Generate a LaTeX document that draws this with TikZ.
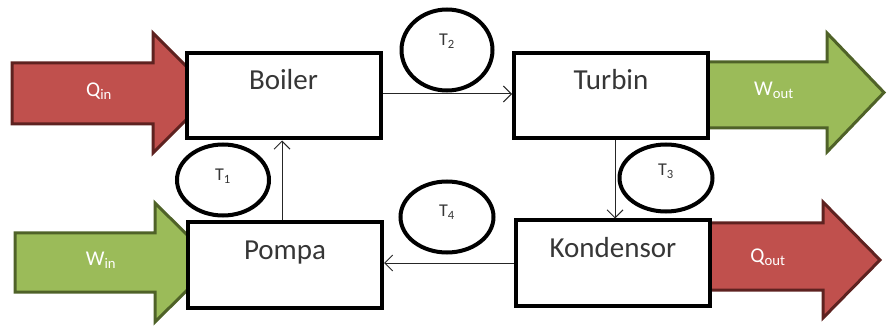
\documentclass[tikz,border=0pt]{standalone}
\usepackage{fontspec}
\setmainfont{Carlito}
\usetikzlibrary{arrows.meta,shapes.geometric}
\definecolor{redfill}{HTML}{C0504D}
\definecolor{redline}{HTML}{5E2220}
\definecolor{greenfill}{HTML}{9BBB59}
\definecolor{greenline}{HTML}{4F6228}
\definecolor{txt}{HTML}{363636}
\begin{document}
\begin{tikzpicture}[x=1pt,y=-1pt,
  bigred/.style={fill=redfill,draw=redline,line width=3pt,line join=miter},
  biggreen/.style={fill=greenfill,draw=greenline,line width=3pt,line join=miter},
  bigtext/.style={text=white,font=\fontsize{21}{21}\selectfont,inner sep=0pt},
  box/.style={draw=black,line width=4pt,fill=white,minimum width=194pt,minimum height=85pt,inner sep=0pt},
  boxtext/.style={text=txt,font=\fontsize{29}{29}\selectfont,inner sep=0pt,anchor=base},
  temp/.style={ellipse,draw=black,line width=4pt,fill=white,inner sep=0pt},
  temptext/.style={text=txt,font=\fontsize{18}{18}\selectfont,inner sep=0pt},
  conn/.style={draw=black!85,line width=1pt,-{Straight Barb[length=8pt,width=16pt,line width=1pt]}}]
\useasboundingbox (0,0) rectangle (887,326);
% big arrows
\path[bigred] (12,63) -- (153,63) -- (153,33) -- (213,93) -- (153,153) -- (153,124) -- (12,124) -- cycle;
\path[biggreen] (15,233) -- (155,233) -- (155,203) -- (215,262.5) -- (155,322) -- (155,292) -- (15,292) -- cycle;
\path[biggreen] (700,62) -- (827,62) -- (827,33) -- (884,92.5) -- (827,152) -- (827,128) -- (700,128) -- cycle;
\path[bigred] (700,223) -- (823,223) -- (823,202) -- (880,260) -- (823,318) -- (823,290) -- (700,290) -- cycle;
\node[bigtext] (qin) at (99,91) {Q\textsubscript{in}};
\node[bigtext] (win) at (101,260) {W\textsubscript{in}};
\node[bigtext] (wout) at (774,90) {W\textsubscript{out}};
\node[bigtext] (qout) at (768,257) {Q\textsubscript{out}};
% boxes
\node[box] (boiler) at (283.5,96) {};
\node[box] (turbin) at (611,96) {};
\node[box] (pompa) at (285,265) {};
\node[box] (kondensor) at (613,263) {};
\node[boxtext] (lboiler) at (283.5,90) {Boiler};
\node[boxtext] (lturbin) at (611,90) {Turbin};
\node[boxtext] (lpompa) at (285,259) {Pompa};
\node[boxtext] (lkondensor) at (613,257) {Kondensor};
% temperature ellipses
\node[temp,minimum width=92pt,minimum height=71pt] (t1) at (223,180) {};
\node[temp,minimum width=91pt,minimum height=81pt] (t2) at (447,50) {};
\node[temp,minimum width=93pt,minimum height=67pt] (t3) at (666,178) {};
\node[temp,minimum width=93pt,minimum height=71pt] (t4) at (447,217) {};
\node[temptext] (lt1) at ([yshift=4pt]t1.center) {T\textsubscript{1}};
\node[temptext] (lt2) at ([yshift=9pt]t2.center) {T\textsubscript{2}};
\node[temptext] (lt3) at ([yshift=7pt]t3.center) {T\textsubscript{3}};
\node[temptext] (lt4) at ([yshift=5pt]t4.center) {T\textsubscript{4}};
% connectors
\draw[conn] ([yshift=2pt]boiler.east) -- ([yshift=2pt]turbin.west);
\draw[conn] ([xshift=4pt]turbin.south) -- ([xshift=4pt]turbin.south |- kondensor.north);
\draw[conn] (kondensor.west) -- (kondensor.west -| pompa.east);
\draw[conn] ([xshift=-3pt]pompa.north) -- ([xshift=-3pt]pompa.north |- boiler.south);
\end{tikzpicture}
\end{document}
